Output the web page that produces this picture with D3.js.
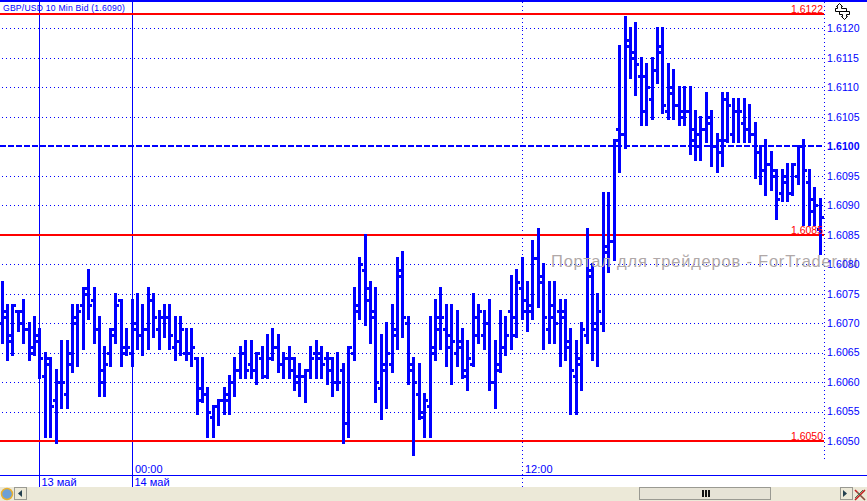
<!DOCTYPE html>
<html><head><meta charset="utf-8">
<script src="https://cdn.jsdelivr.net/npm/d3@7"></script>
<style>html,body{margin:0;padding:0;background:#fff;overflow:hidden}svg{display:block}</style>
</head><body><svg id="c" width="867" height="501"></svg>
<script>
const highs=[1.6077,1.6073,1.6073,1.6072,1.6074,1.6070,1.6071,1.6069,1.6065,1.6064,1.6062,1.6067,1.6067,1.6073,1.6073,1.6076,1.6079,1.6076,1.6071,1.6066,1.6069,1.6075,1.6074,1.6069,1.6074,1.6075,1.6073,1.6076,1.6075,1.6072,1.6073,1.6073,1.6071,1.6071,1.6069,1.6069,1.6064,1.6064,1.6059,1.6056,1.6057,1.6059,1.6061,1.6064,1.6066,1.6067,1.6067,1.6065,1.6066,1.6068,1.6069,1.6068,
1.6065,1.6066,1.6064,1.6063,1.6062,1.6066,1.6067,1.6066,1.6065,1.6064,1.6065,1.6063,1.6066,1.6076,1.6081,1.6085,1.6077,1.6076,1.6068,1.6070,1.6073,1.6081,1.6082,1.6071,1.6064,1.6063,1.6058,1.6071,1.6074,1.6076,1.6073,1.6073,1.6072,1.6069,1.6067,1.6075,1.6073,1.6072,1.6074,1.6067,1.6072,1.6071,1.6078,1.6079,1.6081,1.6077,1.6084,1.6086,1.6080,1.6077,1.6077,1.6074,1.6074,1.6069,1.6067,1.6070,1.6086,1.6080,1.6075,1.6092,1.6092,1.6101,
1.6117,1.6122,1.6120,1.6121,1.6115,1.6114,1.6115,1.6120,1.6120,1.6114,1.6113,1.6110,1.6110,1.6110,1.6106,1.6105,1.6109,1.6106,1.6102,1.6109,1.6109,1.6108,1.6108,1.6108,1.6107,1.6104,1.6100,1.6101,1.6099,1.6096,1.6096,1.6097,1.6097,1.6100,1.6101,1.6096,1.6093,1.6091];
const lows=[1.6067,1.6064,1.6065,1.6069,1.6067,1.6064,1.6065,1.6061,1.6051,1.6051,1.6050,1.6056,1.6056,1.6062,1.6063,1.6066,1.6071,1.6067,1.6058,1.6058,1.6063,1.6067,1.6063,1.6065,1.6063,1.6066,1.6065,1.6066,1.6068,1.6066,1.6068,1.6066,1.6064,1.6065,1.6064,1.6063,1.6055,1.6057,1.6051,1.6051,1.6053,1.6055,1.6055,1.6058,1.6061,1.6061,1.6061,1.6060,1.6061,1.6061,1.6064,1.6062,
1.6061,1.6061,1.6059,1.6058,1.6057,1.6061,1.6061,1.6061,1.6060,1.6058,1.6059,1.6050,1.6051,1.6064,1.6071,1.6070,1.6067,1.6057,1.6054,1.6056,1.6062,1.6066,1.6068,1.6060,1.6048,1.6054,1.6051,1.6051,1.6064,1.6066,1.6063,1.6060,1.6063,1.6061,1.6059,1.6063,1.6067,1.6066,1.6059,1.6056,1.6062,1.6065,1.6066,1.6068,1.6071,1.6069,1.6071,1.6073,1.6066,1.6067,1.6067,1.6063,1.6064,1.6055,1.6055,1.6059,1.6067,1.6064,1.6063,1.6069,1.6079,1.6081,
1.6096,1.6100,1.6112,1.6109,1.6104,1.6104,1.6105,1.6111,1.6106,1.6105,1.6105,1.6104,1.6104,1.6099,1.6098,1.6098,1.6101,1.6097,1.6096,1.6097,1.6101,1.6101,1.6101,1.6101,1.6101,1.6095,1.6094,1.6092,1.6093,1.6088,1.6091,1.6091,1.6092,1.6094,1.6087,1.6087,1.6087,1.6082];
const opens=[1.6070,1.6072,1.6067,1.6072,1.6070,1.6069,1.6065,1.6067,1.6061,1.6063,1.6057,1.6060,1.6058,1.6063,1.6070,1.6073,1.6075,1.6074,1.6069,1.6060,1.6065,1.6068,1.6074,1.6065,1.6065,1.6069,1.6068,1.6069,1.6074,1.6069,1.6071,1.6071,1.6066,1.6067,1.6065,1.6065,1.6064,1.6057,1.6058,1.6054,1.6056,1.6057,1.6058,1.6060,1.6062,1.6065,1.6063,1.6062,1.6064,1.6061,1.6064,1.6066,
1.6063,1.6064,1.6064,1.6060,1.6061,1.6062,1.6065,1.6064,1.6064,1.6064,1.6060,1.6062,1.6053,1.6065,1.6073,1.6079,1.6074,1.6071,1.6059,1.6062,1.6063,1.6069,1.6078,1.6070,1.6062,1.6058,1.6055,1.6056,1.6065,1.6069,1.6069,1.6066,1.6065,1.6066,1.6062,1.6063,1.6068,1.6068,1.6070,1.6060,1.6062,1.6066,1.6072,1.6071,1.6076,1.6072,1.6073,1.6081,1.6078,1.6069,1.6073,1.6072,1.6071,1.6067,1.6061,1.6064,1.6068,1.6078,1.6069,1.6070,1.6082,1.6084,
1.6103,1.6102,1.6118,1.6115,1.6112,1.6106,1.6108,1.6113,1.6117,1.6106,1.6110,1.6107,1.6106,1.6106,1.6101,1.6100,1.6103,1.6104,1.6100,1.6099,1.6101,1.6102,1.6106,1.6104,1.6103,1.6102,1.6099,1.6096,1.6097,1.6095,1.6092,1.6095,1.6092,1.6095,1.6100,1.6094,1.6091,1.6086];
const closes=[1.6071,1.6068,1.6073,1.6072,1.6069,1.6066,1.6068,1.6064,1.6064,1.6056,1.6060,1.6060,1.6065,1.6071,1.6072,1.6076,1.6073,1.6069,1.6062,1.6063,1.6069,1.6073,1.6066,1.6066,1.6070,1.6068,1.6069,1.6074,1.6071,1.6071,1.6071,1.6068,1.6067,1.6069,1.6065,1.6066,1.6059,1.6058,1.6055,1.6056,1.6057,1.6057,1.6060,1.6062,1.6065,1.6062,1.6062,1.6065,1.6061,1.6064,1.6066,1.6063,
1.6064,1.6062,1.6061,1.6061,1.6062,1.6064,1.6065,1.6063,1.6062,1.6060,1.6060,1.6053,1.6066,1.6072,1.6080,1.6076,1.6072,1.6060,1.6063,1.6065,1.6068,1.6079,1.6071,1.6063,1.6060,1.6054,1.6057,1.6066,1.6071,1.6071,1.6068,1.6067,1.6067,1.6061,1.6064,1.6071,1.6072,1.6070,1.6060,1.6063,1.6066,1.6068,1.6068,1.6077,1.6074,1.6072,1.6081,1.6077,1.6071,1.6071,1.6070,1.6072,1.6066,1.6062,1.6063,1.6069,1.6079,1.6070,1.6072,1.6083,1.6084,1.6101,
1.6102,1.6117,1.6116,1.6114,1.6112,1.6110,1.6113,1.6116,1.6107,1.6109,1.6107,1.6105,1.6106,1.6103,1.6102,1.6103,1.6105,1.6100,1.6101,1.6108,1.6107,1.6106,1.6106,1.6103,1.6102,1.6099,1.6096,1.6097,1.6096,1.6091,1.6094,1.6092,1.6097,1.6100,1.6096,1.6089,1.6090,1.6088];
const barIndex=d3.range(highs.length);
const gridPrices=[1.6055,1.6060,1.6065,1.6070,1.6075,1.6080,1.6090,1.6095,1.6105,1.6110,1.6115,1.6120];
const axisPrices=[1.6050,1.6055,1.6060,1.6065,1.6070,1.6075,1.6080,1.6085,1.6090,1.6095,1.6100,1.6105,1.6110,1.6115,1.6120];
const currentPrice=1.6100;
const redLevels=[1.61225,1.6085,1.6050];
const redLabels=["1.6122","1.6085","1.6050"];
const separatorBars=[7,24];
const dottedBars=[96];
const timeLabels=[{bar:24,text:"00:00"},{bar:96,text:"12:00"}];
const dateLabels=[{bar:7,text:"13 май"},{bar:24,text:"14 май"}];
const titleText="GBP/USD 10 Min Bid (1.6090)";
const watermark="Портал для трейдеров - ForTrader.ru";

const BLUE="#0000ff",RED="#ff0000",FONT="'Liberation Sans',Arial,sans-serif";
const svg=d3.select("#c").style("font-family",FONT);
const x=d3.scaleLinear().domain([0,highs.length-1]).range([2.05,820.05]);
const y=d3.scaleLinear().domain([1.6050,1.6120]).range([441,28.4]);
const sx=i=>Math.floor(x(i))+.5;
const py=v=>Math.round(y(v));
const chartRight=824;

svg.append("rect").attr("width",867).attr("height",487).attr("fill","#fff");
const crisp=svg.append("g").attr("shape-rendering","crispEdges");
crisp.append("rect").attr("x",0).attr("y",0).attr("width",867).attr("height",2).attr("fill",BLUE);

crisp.selectAll("line.g").data(gridPrices.concat([1.6085,1.6050])).join("line").attr("class","g")
 .attr("x1",2).attr("x2",chartRight).attr("y1",d=>py(d)+.5).attr("y2",d=>py(d)+.5)
 .attr("stroke",BLUE).attr("stroke-dasharray","1 3");
crisp.append("line").attr("x1",824.5).attr("x2",824.5).attr("y1",2).attr("y2",460)
 .attr("stroke",BLUE).attr("stroke-dasharray","1 3");
crisp.selectAll("line.d").data(dottedBars).join("line").attr("class","d")
 .attr("x1",sx).attr("x2",sx).attr("y1",2).attr("y2",487)
 .attr("stroke",BLUE).attr("stroke-dasharray","1 3");
crisp.append("line").attr("x1",0).attr("x2",867).attr("y1",475.5).attr("y2",475.5).attr("stroke",BLUE);

svg.append("text").attr("x",3).attr("y",10.5).attr("font-size",8.6).attr("letter-spacing",.22).attr("fill",BLUE).text(titleText);
svg.append("text").attr("x",551).attr("y",267).attr("font-size",16.5).attr("letter-spacing",.78)
 .attr("fill","#b0a8a8").text(watermark);

crisp.selectAll("line.s").data(separatorBars).join("line").attr("class","s")
 .attr("x1",sx).attr("x2",sx).attr("y1",2).attr("y2",487).attr("stroke",BLUE);

crisp.append("line").attr("x1",0).attr("x2",chartRight).attr("y1",py(currentPrice)).attr("y2",py(currentPrice))
 .attr("stroke",BLUE).attr("stroke-width",2).attr("stroke-dasharray","6 2");
crisp.selectAll("line.r").data(redLevels).join("line").attr("class","r")
 .attr("x1",0).attr("x2",chartRight).attr("y1",d=>py(d)).attr("y2",d=>py(d))
 .attr("stroke",RED).attr("stroke-width",2);

const bars=crisp.append("g");
bars.selectAll("line.stem").data(barIndex).join("line").attr("class","stem")
 .attr("x1",sx).attr("x2",sx).attr("y1",i=>y(highs[i])-1).attr("y2",i=>y(lows[i])+3)
 .attr("stroke",BLUE).attr("stroke-width",3);
bars.selectAll("line.open").data(barIndex).join("line").attr("class","open")
 .attr("x1",i=>sx(i)-3.5).attr("x2",sx).attr("y1",i=>py(opens[i])+.5).attr("y2",i=>py(opens[i])+.5)
 .attr("stroke",BLUE).attr("stroke-width",3);
bars.selectAll("line.close").data(barIndex).join("line").attr("class","close")
 .attr("x1",sx).attr("x2",i=>sx(i)+3.5).attr("y1",i=>py(closes[i])+.5).attr("y2",i=>py(closes[i])+.5)
 .attr("stroke",BLUE).attr("stroke-width",3);

svg.selectAll("text.rl").data(redLevels).join("text").attr("class","rl")
 .attr("x",823).attr("y",d=>py(d)-1).attr("text-anchor","end").attr("font-size",10.5).attr("fill",RED)
 .text((d,i)=>redLabels[i]);

const axis=d3.axisRight(y).tickValues(axisPrices).tickSize(0).tickPadding(0).tickFormat(d3.format(".4f"));
const ag=svg.append("g").attr("transform","translate(827,0)").call(axis);
ag.select(".domain").remove();
ag.selectAll("text").attr("font-family",FONT).attr("font-size",10.5).attr("letter-spacing",.1)
 .attr("fill",BLUE).attr("font-weight",d=>d===currentPrice?"bold":null);

svg.selectAll("text.t").data(timeLabels).join("text").attr("class","t")
 .attr("x",d=>sx(d.bar)+2.5).attr("y",473).attr("font-size",11).attr("fill",BLUE).text(d=>d.text);
svg.selectAll("text.dt").data(dateLabels).join("text").attr("class","dt")
 .attr("x",d=>sx(d.bar)+2).attr("y",486).attr("font-size",11).attr("fill",BLUE).text(d=>d.text);

// window chrome
const ch=svg.append("g").attr("shape-rendering","crispEdges");
ch.append("rect").attr("y",487).attr("width",867).attr("height",14).attr("fill","#ece9d8");
ch.append("rect").attr("x",639.5).attr("y",487.5).attr("width",131).attr("height",12).attr("fill","#e6e3d6").attr("stroke","#9a9a92");
ch.selectAll("rect.grip").data([0,1,2]).join("rect").attr("class","grip").attr("x",d=>702+d*3).attr("y",490).attr("width",2).attr("height",7).attr("fill","#111");
[[14.5,"M22 490v7l-4-3.5z"],[840.5,"M843 490v7l4-3.5z"]].forEach(([bx,p])=>{
 ch.append("rect").attr("x",bx).attr("y",487.5).attr("width",12).attr("height",12).attr("fill","#ece9d8").attr("stroke","#9a9a92");
 ch.append("path").attr("d",p).attr("fill","#23404f").attr("shape-rendering","auto");
});
svg.append("circle").attr("cx",7).attr("cy",494).attr("r",5.5).attr("fill","#6d9fd6").attr("stroke","#e8b030").attr("stroke-width",1.5);
svg.append("path").attr("d","M855 490l10 10M865 490l-10 10").attr("stroke","#c02020").attr("stroke-width",1.6);
svg.append("path").attr("d","M857 492l8 8M863 490l-8 8").attr("stroke","#557050").attr("stroke-width",1);
// top-right icon: two interlocked arrows
svg.append("path").attr("d","M835.5 8.5h2v-2h-1l3-3 3 3h-1v2h5v3h-11z").attr("fill","#fff").attr("stroke","#000");
svg.append("path").attr("d","M839.5 11.5h10v3h-3v2h1l-3 3-3-3h1v-2h-3z").attr("fill","#fff").attr("stroke","#000");
</script></body></html>
